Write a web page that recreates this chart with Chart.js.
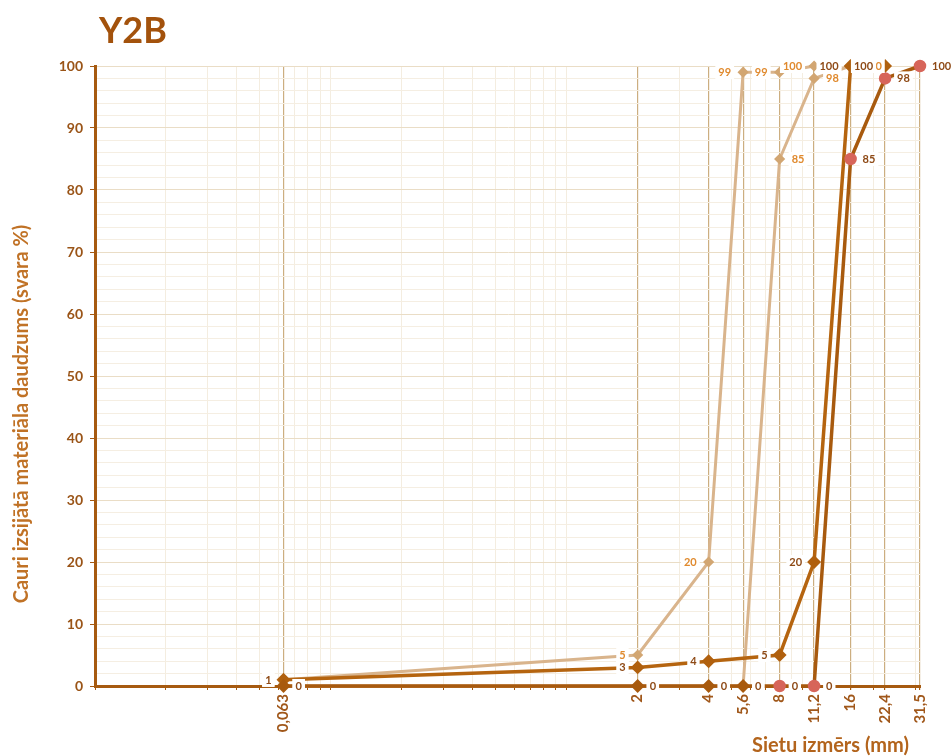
<!DOCTYPE html>
<html><head><meta charset="utf-8">
<script src="https://cdn.jsdelivr.net/npm/chart.js@4.4.1/dist/chart.umd.min.js"></script>
<style>html,body{margin:0;padding:0;background:#fff}#wrap{width:952px;height:756px;position:relative}</style>
</head><body><div id="wrap"><canvas id="c" width="952" height="756"></canvas></div>
<script>
// ---- data ----
const sieveSizes  = [0.063, 2, 4, 5.6, 8, 11.2, 16, 22.4, 31.5];
const sieveLabels = ['0,063', '2', '4', '5,6', '8', '11,2', '16', '22,4', '31,5'];
const seriesA = [1, 5, 20, 99, 99, 100, null, null, null];
const seriesB = [0, 0, 0, 0, 85, 98, 100, null, null];
const seriesC = [1, 3, 4, null, 5, 20, 100, 100, null];
const seriesD = [0, 0, 0, 0, 0, 0, 85, 98, 100];
const yTickValues = [0, 10, 20, 30, 40, 50, 60, 70, 80, 90, 100];
const chartTitle = 'Y2B';
const yTitle = 'Cauri izsijātā materiāla daudzums (svara %)';
const xTitle = 'Sietu izmērs (mm)';

// ---- helpers ----
const pts = arr => sieveSizes.map((x, i) => ({x, y: arr[i]})).filter(p => p.y !== null);
const FONT = 'Lato, "Open Sans", sans-serif';
const BROWN = '#A65A10';

// minor log ticks for faint grid
const minorX = [];
[0.01, 0.1, 1, 10].forEach(d => { for (let k = 1; k <= 9; k++) { const v = +(k * d).toPrecision(6); if (v <= 31.5) minorX.push(v); } });
const xTickAll = Array.from(new Set([...minorX, ...sieveSizes])).sort((a, b) => a - b);
const yMinor = []; for (let v = 0; v <= 100; v += 2) yMinor.push(v);

const labelPlugin = {
  id: 'valueLabels',
  afterDatasetsDraw(chart) {
    const c = chart.ctx;
    c.save();
    c.font = 'bold 11px ' + FONT;
    c.textBaseline = 'middle';
    c.textAlign = 'left';
    chart.data.datasets.forEach((ds, i) => {
      const meta = chart.getDatasetMeta(i);
      meta.data.forEach((el, j) => {
        const txt = String(ds.data[j].y);
        const w = c.measureText(txt).width;
        const x = ds.labelSide === 'left' ? el.x - 12 - w : el.x + 12;
        c.fillStyle = '#ffffff';
        c.fillRect(x - 3, el.y - 7, w + 6, 14);
        c.fillStyle = ds.labelColor;
        c.fillText(txt, x, el.y + 0.5);
      });
    });
    c.restore();
  }
};

const textPlugin = {
  id: 'titles',
  afterDraw(chart) {
    const c = chart.ctx;
    c.save();
    c.fillStyle = '#A3520C';
    c.font = 'bold 36px ' + FONT;
    c.textBaseline = 'alphabetic';
    c.textAlign = 'left';
    c.fillText(chartTitle, 99, 43);
    c.fillStyle = '#B3641C';
    c.font = 'bold 20px ' + FONT;
    c.fillText(xTitle, 752, 752);
    c.translate(28, 414);
    c.rotate(-Math.PI / 2);
    c.textAlign = 'center';
    c.font = 'bold 20px ' + FONT;
    c.fillStyle = '#C07226';
    c.fillText(yTitle, 0, 0);
    c.restore();
  }
};

const isMajorX = v => sieveSizes.includes(v);

new Chart(document.getElementById('c').getContext('2d'), {
  type: 'scatter',
  data: {
    datasets: [
      { data: pts(seriesA), showLine: true, borderColor: '#D9B48C', borderWidth: 3,
        pointStyle: 'rectRot', pointRadius: 3.5, pointBackgroundColor: '#D2A672', pointBorderColor: '#D2A672',
        labelSide: 'left', labelColor: '#E08A2E', order: 3, clip: false },
      { data: pts(seriesB), showLine: true, borderColor: '#D9B48C', borderWidth: 3,
        pointStyle: 'rectRot', pointRadius: 3.5, pointBackgroundColor: '#D2A672', pointBorderColor: '#D2A672',
        labelSide: 'right', labelColor: '#E08A2E', order: 2, clip: false },
      { data: pts(seriesC), showLine: true, borderColor: '#B5640F', borderWidth: 3.5,
        pointStyle: 'rectRot', pointRadius: 4.5, pointBackgroundColor: '#B0600E', pointBorderColor: '#B0600E',
        labelSide: 'left', labelColor: '#8E4A16', order: 1, clip: false },
      { data: pts(seriesD), showLine: true, borderColor: '#A85A0E', borderWidth: 3.5,
        pointStyle: ctx => (ctx.raw && ctx.raw.x >= 8 ? 'circle' : 'rectRot'), pointRadius: 4.5,
        pointBackgroundColor: ctx => (ctx.raw && ctx.raw.x >= 8 ? '#D7655A' : '#A85A0E'),
        pointBorderColor: ctx => (ctx.raw && ctx.raw.x >= 8 ? '#D7655A' : '#A85A0E'),
        labelSide: 'right', labelColor: '#8E4A16', order: 0, clip: false }
    ]
  },
  options: {
    responsive: false,
    animation: false,
    layout: { padding: { left: 0, right: 32, top: 66, bottom: 0 } },
    plugins: { legend: { display: false }, tooltip: { enabled: false } },
    scales: {
      x: {
        type: 'logarithmic', min: 0.01, max: 31.5,
        afterBuildTicks(s) { s.ticks = xTickAll.map(v => ({ value: v })); },
        afterFit(s) { s.height = 70; },
        ticks: {
          autoSkip: false, minRotation: 90, maxRotation: 90, padding: 4,
          color: '#A0571A', font: { family: FONT, size: 15, weight: 'bold' },
          callback: v => { const i = sieveSizes.indexOf(v); return i >= 0 ? sieveLabels[i] : ''; }
        },
        grid: {
          color: ctx => (ctx.tick && isMajorX(ctx.tick.value) ? '#CCAE80' : '#F4EDE0'),
          lineWidth: ctx => (ctx.tick && isMajorX(ctx.tick.value) ? 1.2 : 1),
          tickLength: 4,
          tickColor: BROWN
        },
        border: { color: BROWN, width: 3 }
      },
      y: {
        min: 0, max: 100,
        afterBuildTicks(s) { s.ticks = yMinor.map(v => ({ value: v })); },
        afterFit(s) { s.width = 95; },
        ticks: {
          autoSkip: false, padding: 7,
          color: '#9A5417', font: { family: FONT, size: 14, weight: 'bold' },
          callback: v => (yTickValues.includes(v) ? String(v) : '')
        },
        grid: {
          color: ctx => (ctx.tick && yTickValues.includes(ctx.tick.value) ? '#EADDC6' : '#F5EEE2'),
          tickLength: 5,
          tickColor: ctx => (ctx.tick && yTickValues.includes(ctx.tick.value) ? BROWN : 'rgba(0,0,0,0)')
        },
        border: { color: BROWN, width: 3 }
      }
    }
  },
  plugins: [labelPlugin, textPlugin]
});
</script></body></html>
